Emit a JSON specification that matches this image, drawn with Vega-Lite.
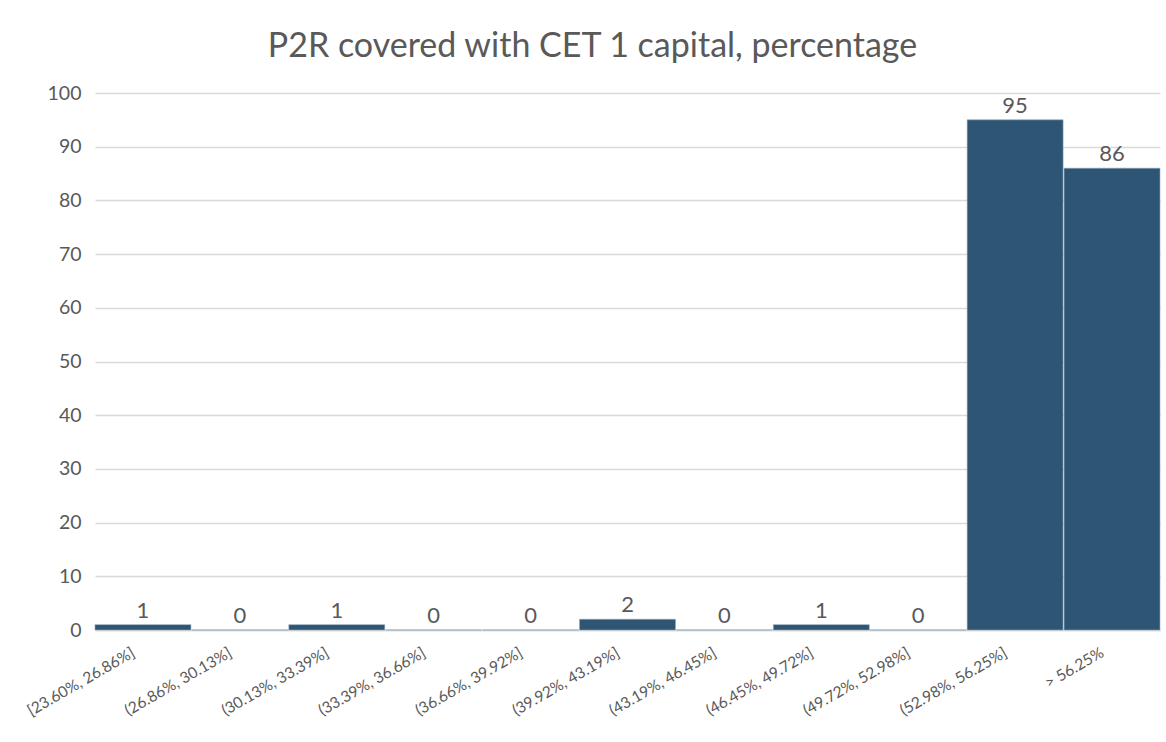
{
  "$schema": "https://vega.github.io/schema/vega-lite/v6.json",
  "autosize": "none",
  "width": 1065,
  "height": 537,
  "padding": {"left": 95, "top": 93, "right": 6, "bottom": 112},
  "background": "white",
  "title": {
    "text": "P2R covered with CET 1 capital, percentage",
    "font": "Lato",
    "fontSize": 34,
    "fontWeight": "normal",
    "color": "#595959",
    "anchor": "middle",
    "dx": -35,
    "offset": 19
  },
  "data": {
    "values": [
      {"bin": "[23.60%, 26.86%]", "count": 1},
      {"bin": "(26.86%, 30.13%]", "count": 0},
      {"bin": "(30.13%, 33.39%]", "count": 1},
      {"bin": "(33.39%, 36.66%]", "count": 0},
      {"bin": "(36.66%, 39.92%]", "count": 0},
      {"bin": "(39.92%, 43.19%]", "count": 2},
      {"bin": "(43.19%, 46.45%]", "count": 0},
      {"bin": "(46.45%, 49.72%]", "count": 1},
      {"bin": "(49.72%, 52.98%]", "count": 0},
      {"bin": "(52.98%, 56.25%]", "count": 95},
      {"bin": "> 56.25%", "count": 86}
    ]
  },
  "encoding": {
    "x": {
      "field": "bin",
      "type": "nominal",
      "sort": null,
      "scale": {"paddingInner": 0.01, "paddingOuter": 0},
      "axis": {
        "title": null,
        "labelAngle": -30,
        "labelAlign": "right",
        "labelBaseline": "top",
        "labelFont": "Lato",
        "labelFontSize": 15.5,
        "labelColor": "#595959",
        "labelPadding": 15,
        "labelOffset": -13,
        "ticks": false,
        "domainColor": "#d9d9d9",
        "domainWidth": 1.5,
        "grid": false
      }
    },
    "y": {
      "field": "count",
      "type": "quantitative",
      "scale": {"domain": [0, 100], "nice": false},
      "axis": {
        "title": null,
        "values": [0, 10, 20, 30, 40, 50, 60, 70, 80, 90, 100],
        "labelFont": "Lato",
        "labelFontSize": 19.5,
        "labelColor": "#595959",
        "labelPadding": 14,
        "ticks": false,
        "domain": false,
        "gridColor": "#d9d9d9",
        "gridWidth": 1.5
      }
    }
  },
  "layer": [
    {
      "mark": {"type": "bar", "color": "#2E5573", "stroke": "#8fa8bc", "strokeWidth": 0.6}
    },
    {
      "mark": {"type": "text", "baseline": "bottom", "dy": -2, "font": "Lato", "fontSize": 22, "color": "#595959"},
      "encoding": {"text": {"field": "count", "type": "quantitative"}}
    }
  ],
  "config": {"view": {"stroke": null}}
}
